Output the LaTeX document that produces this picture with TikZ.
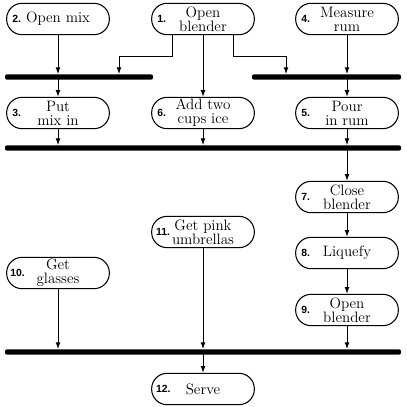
\documentclass[tikz,border=0pt]{standalone}
\usepackage{fontspec}
\newfontfamily\numfont{Liberation Sans}
\usetikzlibrary{arrows.meta}
\begin{document}
\begin{tikzpicture}[x=0.75pt,y=-0.75pt,
  box/.style={draw, line width=0.8pt, rounded corners=11.5pt, minimum width=77pt, minimum height=23.5pt, inner sep=1pt, align=center, font=\fontsize{11.3}{10.6}\selectfont},
  bar/.style={fill=black, inner sep=0pt, minimum height=4pt, rounded corners=1.5pt},
  arr/.style={-{Latex[length=5pt,width=3.6pt]}, line width=0.7pt},
  num/.style={font=\numfont\bfseries\fontsize{7.8}{9}\selectfont, inner sep=0pt, anchor=west, xshift=4.5pt}]
\useasboundingbox (0,0) rectangle (407,407);
% boxes
\node[box, label={[num]west:2.}]  (b2)  at (58,19)   {Open mix};
\node[box, label={[num]west:1.}]  (b1)  at (203,19)  {Open\\blender};
\node[box, label={[num]west:4.}]  (b4)  at (347,19)  {Measure\\rum};
\node[box, label={[num]west:3.}]  (b3)  at (58,113)  {Put\\mix in};
\node[box, label={[num]west:6.}]  (b6)  at (203,113) {Add two\\cups ice};
\node[box, label={[num]west:5.}]  (b5)  at (347,113) {Pour\\in rum};
\node[box, label={[num]west:7.}]  (b7)  at (347,197) {Close\\blender};
\node[box, label={[num]west:8.}]  (b8)  at (347,253) {Liquefy};
\node[box, label={[num]west:9.}]  (b9)  at (347,310) {Open\\blender};
\node[box, label={[num,xshift=-1pt]west:11.}] (b11) at (203,232) {Get pink\\umbrellas};
\node[box, label={[num,xshift=-1.5pt]west:10.}] (b10) at (58,273)  {Get\\glasses};
\node[box, label={[num,xshift=-1pt]west:12.}] (b12) at (203,389) {Serve};
% bars
\node[bar, minimum width=111pt]   (bar1) at (79,77)    {};
\node[bar, minimum width=111.75pt] (bar2) at (326.5,77) {};
\node[bar, minimum width=297pt]   (bar3) at (203,148)  {};
\node[bar, minimum width=297pt]   (bar4) at (203,352)  {};
% bends
\coordinate (k1) at (172,56);
\coordinate (k2) at (119,56);
\coordinate (k3) at (233,56);
\coordinate (k4) at (286,56);
% connectors
\draw[arr] (b2.south) -- (b2.south |- bar1.north);
\draw[arr] (b1.south -| k1) -- (k1) -- (k2) -- (k2 |- bar1.north);
\draw[arr] (b1.south -| k3) -- (k3) -- (k4) -- (k4 |- bar2.north);
\draw[arr] (b1.south) -- (b6.north);
\draw[arr] (b4.south) -- (b4.south |- bar2.north);
\draw[arr] (bar1 -| b3.north) -- (b3.north);
\draw[arr] (bar2 -| b5.north) -- (b5.north);
\draw[arr] (b3.south) -- (b3.south |- bar3.north);
\draw[arr] (b6.south) -- (b6.south |- bar3.north);
\draw[arr] (b5.south) -- (b5.south |- bar3.north);
\draw[arr] (bar3 -| b7.north) -- (b7.north);
\draw[arr] (b7.south) -- (b8.north);
\draw[arr] (b8.south) -- (b9.north);
\draw[arr] (b10.south) -- (b10.south |- bar4.north);
\draw[arr] (b11.south) -- (b11.south |- bar4.north);
\draw[arr] (b9.south) -- (b9.south |- bar4.north);
\draw[arr] (bar4 -| b12.north) -- (b12.north);
\end{tikzpicture}
\end{document}
